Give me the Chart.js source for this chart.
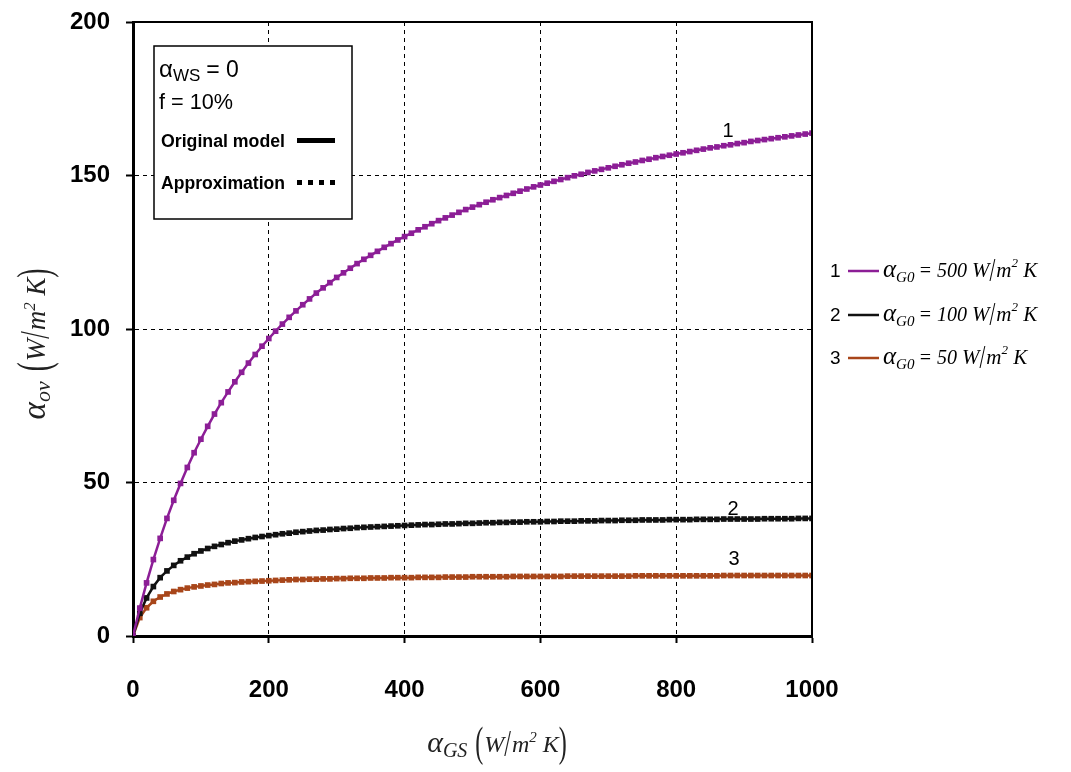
<!DOCTYPE html>
<html>
<head>
<meta charset="utf-8">
<script src="https://cdn.jsdelivr.net/npm/chart.js@4/dist/chart.umd.min.js"></script>
<style>
  html, body { margin: 0; padding: 0; background: #fff; }
  #wrap { position: relative; width: 1071px; height: 772px; }
</style>
</head>
<body>
<div id="wrap"><canvas id="chart" width="1071" height="772"></canvas></div>
<script>
// alpha_GS, W/m2K
const xValues = [
  0, 10, 20, 30, 40, 50, 60, 70, 80, 90,
  100, 110, 120, 130, 140, 150, 160, 170, 180, 190,
  200, 210, 220, 230, 240, 250, 260, 270, 280, 290,
  300, 310, 320, 330, 340, 350, 360, 370, 380, 390,
  400, 410, 420, 430, 440, 450, 460, 470, 480, 490,
  500, 510, 520, 530, 540, 550, 560, 570, 580, 590,
  600, 610, 620, 630, 640, 650, 660, 670, 680, 690,
  700, 710, 720, 730, 740, 750, 760, 770, 780, 790,
  800, 810, 820, 830, 840, 850, 860, 870, 880, 890,
  900, 910, 920, 930, 940, 950, 960, 970, 980, 990,
  1000
];

// alpha_ov for alpha_G0 = 500
const alphaG500 = [
  0, 9.1, 17.3, 24.9, 31.8, 38.3, 44.2, 49.7, 54.9, 59.7,
  64.1, 68.3, 72.3, 76.0, 79.5, 82.8, 85.9, 88.9, 91.7, 94.4,
  96.9, 99.3, 101.6, 103.8, 105.9, 107.9, 109.8, 111.7, 113.4, 115.1,
  116.8, 118.3, 119.8, 121.3, 122.7, 124.0, 125.3, 126.6, 127.8, 129.0,
  130.1, 131.2, 132.3, 133.3, 134.3, 135.3, 136.2, 137.1, 138.0, 138.9,
  139.7, 140.5, 141.3, 142.1, 142.8, 143.5, 144.2, 144.9, 145.6, 146.3,
  146.9, 147.5, 148.1, 148.7, 149.3, 149.9, 150.4, 151.0, 151.5, 152.0,
  152.5, 153.0, 153.5, 154.0, 154.4, 154.9, 155.3, 155.8, 156.2, 156.6,
  157.0, 157.4, 157.8, 158.2, 158.6, 159.0, 159.3, 159.7, 160.0, 160.4,
  160.7, 161.1, 161.4, 161.7, 162.0, 162.3, 162.6, 162.9, 163.2, 163.5,
  163.8
];

// alpha_ov for alpha_G0 = 100
const alphaG100 = [
  0, 7.4, 12.4, 16.1, 19.0, 21.2, 23.0, 24.5, 25.7, 26.8,
  27.7, 28.5, 29.2, 29.8, 30.4, 30.9, 31.3, 31.7, 32.1, 32.4,
  32.7, 33.0, 33.3, 33.5, 33.8, 34.0, 34.2, 34.4, 34.5, 34.7,
  34.8, 35.0, 35.1, 35.3, 35.4, 35.5, 35.6, 35.7, 35.8, 35.9,
  36.0, 36.1, 36.2, 36.3, 36.3, 36.4, 36.5, 36.5, 36.6, 36.7,
  36.7, 36.8, 36.9, 36.9, 37.0, 37.0, 37.1, 37.1, 37.2, 37.2,
  37.2, 37.3, 37.3, 37.4, 37.4, 37.4, 37.5, 37.5, 37.5, 37.6,
  37.6, 37.6, 37.7, 37.7, 37.7, 37.8, 37.8, 37.8, 37.8, 37.9,
  37.9, 37.9, 37.9, 38.0, 38.0, 38.0, 38.0, 38.1, 38.1, 38.1,
  38.1, 38.1, 38.1, 38.2, 38.2, 38.2, 38.2, 38.2, 38.3, 38.3,
  38.3
];

// alpha_ov for alpha_G0 = 50
const alphaG50 = [
  0, 6.0, 9.2, 11.3, 12.7, 13.7, 14.5, 15.1, 15.6, 16.0,
  16.3, 16.6, 16.8, 17.1, 17.3, 17.4, 17.6, 17.7, 17.8, 17.9,
  18.0, 18.1, 18.2, 18.3, 18.4, 18.4, 18.5, 18.5, 18.6, 18.6,
  18.7, 18.7, 18.8, 18.8, 18.8, 18.9, 18.9, 18.9, 19.0, 19.0,
  19.0, 19.0, 19.1, 19.1, 19.1, 19.1, 19.2, 19.2, 19.2, 19.2,
  19.3, 19.3, 19.3, 19.3, 19.3, 19.3, 19.4, 19.4, 19.4, 19.4,
  19.4, 19.4, 19.4, 19.4, 19.5, 19.5, 19.5, 19.5, 19.5, 19.5,
  19.5, 19.5, 19.5, 19.5, 19.6, 19.6, 19.6, 19.6, 19.6, 19.6,
  19.6, 19.6, 19.6, 19.6, 19.6, 19.6, 19.6, 19.7, 19.7, 19.7,
  19.7, 19.7, 19.7, 19.7, 19.7, 19.7, 19.7, 19.7, 19.7, 19.7,
  19.7
];

const curveNumbers = ['1', '2', '3'];
const g0Values = ['500', '100', '50'];
const curveColors = ['#8C1E96', '#111111', '#A8461A'];
const xStep = 200;
const yStep = 50;

const SERIF = "'Liberation Serif', 'Times New Roman', serif";
const SANS = "'Liberation Sans', Arial, sans-serif";

function toPoints(ys) {
  return xValues.map((x, i) => ({ x: x, y: ys[i] }));
}

// draws a row of text runs: [text, font, dy, scaleY, gapAfter]
function drawRuns(ctx, runs, x, y, align) {
  let total = 0;
  runs.forEach(r => { ctx.font = r[1]; total += ctx.measureText(r[0]).width + (r[4] || 0); });
  let cx = align === 'center' ? x - total / 2 : x;
  runs.forEach(r => {
    ctx.font = r[1];
    const w = ctx.measureText(r[0]).width;
    ctx.save();
    ctx.translate(cx, y + (r[2] || 0));
    if (r[3]) ctx.scale(1, r[3]);
    ctx.fillText(r[0], 0, 0);
    ctx.restore();
    cx += w + (r[4] || 0);
  });
}

function unitRuns(size) {
  return [
    ['(', size + 'px ' + SERIF, 4, 1.75, 1],
    ['W', 'italic ' + size + 'px ' + SERIF],
    ['/', size + 'px ' + SERIF, 4, 1.6, 1],
    ['m', 'italic ' + size + 'px ' + SERIF],
    ['2', 'italic ' + Math.round(size * 0.62) + 'px ' + SERIF, -10],
    [' K', 'italic ' + size + 'px ' + SERIF],
    [')', size + 'px ' + SERIF, 4, 1.75]
  ];
}

const decorPlugin = {
  id: 'decor',
  afterDraw(chart) {
    const ctx = chart.ctx;
    const a = chart.chartArea;
    ctx.save();

    // solid frame on top and right
    ctx.strokeStyle = '#000';
    ctx.lineWidth = 2;
    ctx.beginPath();
    ctx.moveTo(a.left, a.top);
    ctx.lineTo(a.right, a.top);
    ctx.lineTo(a.right, a.bottom);
    ctx.stroke();

    // inner legend box
    ctx.fillStyle = '#fff';
    ctx.fillRect(154, 46, 198, 173);
    ctx.lineWidth = 1.5;
    ctx.strokeRect(154, 46, 198, 173);

    ctx.fillStyle = '#000';
    ctx.textBaseline = 'alphabetic';
    ctx.textAlign = 'left';
    drawRuns(ctx, [
      ['α', '24px ' + SANS],
      ['WS', '17px ' + SANS, 4, 0, 6],
      ['= 0', '23px ' + SANS]
    ], 159, 77, 'left');
    ctx.font = '22px ' + SANS;
    ctx.fillText('f = 10%', 159, 109, 74);

    ctx.font = 'bold 18px ' + SANS;
    ctx.fillText('Original model', 161, 147, 124);
    ctx.fillText('Approximation', 161, 189, 124);
    ctx.fillRect(297, 138, 38, 5);
    for (let i = 0; i < 4; i++) ctx.fillRect(297 + i * 11, 180, 5, 5);

    // curve numbers next to the lines
    ctx.font = '20px ' + SANS;
    ctx.textAlign = 'center';
    ctx.fillText(curveNumbers[0], 728, 137);
    ctx.fillText(curveNumbers[1], 733, 515);
    ctx.fillText(curveNumbers[2], 734, 565);

    // right-hand legend
    const rows = [270, 314, 357];
    rows.forEach((ry, i) => {
      ctx.fillStyle = '#000';
      ctx.textAlign = 'left';
      ctx.font = '19px ' + SANS;
      ctx.fillText(curveNumbers[i], 830, ry + 7);
      ctx.strokeStyle = curveColors[i];
      ctx.lineWidth = 2.5;
      ctx.beginPath();
      ctx.moveTo(848, ry + 1);
      ctx.lineTo(879, ry + 1);
      ctx.stroke();
      const runs = [
        ['α', 'italic 25px ' + SERIF],
        ['G0', 'italic 15px ' + SERIF, 5, 0, 4],
        ['= ' + g0Values[i] + ' ', 'italic 20px ' + SERIF]
      ].concat(unitRuns(21).slice(1, 6));
      drawRuns(ctx, runs, 883, ry + 7, 'left');
    });

    // axis titles
    ctx.fillStyle = '#222';
    drawRuns(ctx, [
      ['α', 'italic 30px ' + SERIF],
      ['GS', 'italic 20px ' + SERIF, 5, 0, 8]
    ].concat(unitRuns(24)), 497, 752, 'center');

    ctx.save();
    ctx.translate(45, 344);
    ctx.rotate(-Math.PI / 2);
    drawRuns(ctx, [
      ['α', 'italic 33px ' + SERIF],
      ['ov', 'italic 22px ' + SERIF, 5, 0, 10]
    ].concat(unitRuns(27)), 0, 0, 'center');
    ctx.restore();

    ctx.restore();
  }
};

const datasets = [alphaG500, alphaG100, alphaG50].map((ys, i) => ({
  label: curveNumbers[i],
  data: toPoints(ys),
  borderColor: curveColors[i],
  backgroundColor: curveColors[i],
  borderWidth: 2.5,
  pointStyle: 'rect',
  pointRadius: 4,
  pointBorderWidth: 0,
  pointBackgroundColor: curveColors[i],
  tension: 0,
  fill: false
}));

const tickFont = { family: SANS, size: 24, weight: 'bold' };

new Chart(document.getElementById('chart'), {
  type: 'line',
  data: { datasets: datasets },
  options: {
    responsive: false,
    animation: false,
    devicePixelRatio: 1,
    layout: { padding: { left: 0, right: 259, top: 22, bottom: 0 } },
    plugins: {
      legend: { display: false },
      tooltip: { enabled: false }
    },
    scales: {
      x: {
        type: 'linear',
        min: 0,
        max: 1000,
        ticks: {
          stepSize: xStep, color: '#000', font: tickFont, padding: 33, maxRotation: 0,
          callback: v => String(v)
        },
        grid: { color: '#000', lineWidth: 1, tickLength: 7, tickColor: '#000', tickWidth: 2 },
        border: { color: '#000', width: 3, dash: [4, 4] },
        afterFit(scale) { scale.height = 136; scale.paddingLeft = 0; scale.paddingRight = 0; }
      },
      y: {
        min: 0,
        max: 200,
        ticks: { stepSize: yStep, color: '#000', font: tickFont, padding: 16, callback: v => String(v) },
        grid: { color: '#000', lineWidth: 1, tickLength: 7, tickColor: '#000', tickWidth: 2 },
        border: { color: '#000', width: 3, dash: [4, 4] },
        afterFit(scale) { scale.width = 133; scale.paddingTop = 0; scale.paddingBottom = 0; }
      }
    }
  },
  plugins: [decorPlugin]
});
</script>
</body>
</html>
